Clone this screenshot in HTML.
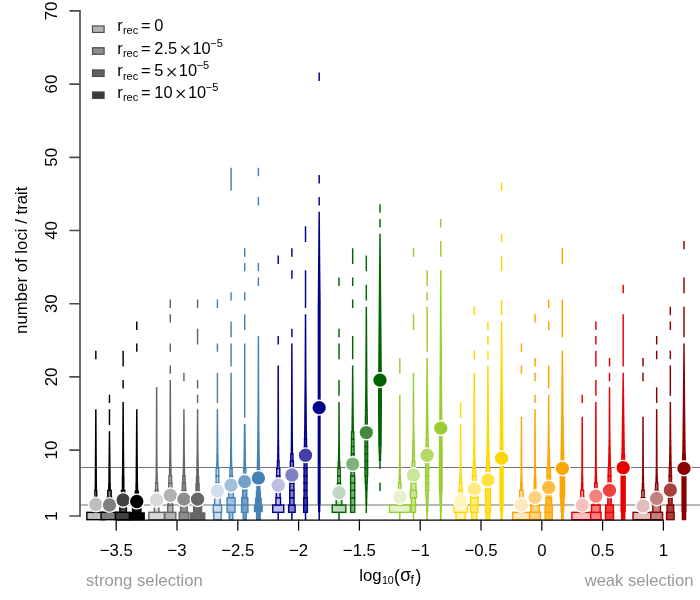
<!DOCTYPE html>
<html><head><meta charset="utf-8"><title>chart</title>
<style>html,body{margin:0;padding:0;background:#fff;width:700px;height:600px;overflow:hidden}</style>
</head><body>
<svg width="700" height="600" viewBox="0 0 700 600" style="will-change:transform;position:absolute;left:0;top:0;font-family:'Liberation Sans',sans-serif">
<rect width="700" height="600" fill="#fff"/>
<g stroke="#737373" stroke-width="1.05">
<line x1="80" x2="700" y1="504.9" y2="504.9"/>
<line x1="80" x2="700" y1="467.4" y2="467.4"/>
</g>
<path fill="#000000" d="M94.62 490.93L94.62 483.06L94.69 483.06L94.69 475.74L94.73 475.74L94.73 468.42L94.78 468.42L94.78 461.10L94.83 461.10L94.83 453.78L94.87 453.78L94.87 446.46L94.91 446.46L94.91 439.14L94.95 439.14L94.95 431.82L94.99 431.82L94.99 424.50L95.03 424.50L95.03 417.18L95.08 417.18L95.08 409.31L96.58 409.31L96.58 417.18L96.62 417.18L96.62 424.50L96.66 424.50L96.66 431.82L96.70 431.82L96.70 439.14L96.74 439.14L96.74 446.46L96.78 446.46L96.78 453.78L96.82 453.78L96.82 461.10L96.87 461.10L96.87 468.42L96.92 468.42L96.92 475.74L96.97 475.74L96.97 483.06L97.03 483.06L97.03 490.93ZM95.10 359.17L95.10 350.75L96.55 350.75L96.55 359.17Z"/>
<g fill="#bfbfbf" stroke="#000000" stroke-width="1.4">
<rect x="86.83" y="512.34" width="18.00" height="7.32"/>
<rect x="92.53" y="505.02" width="6.60" height="7.32"/>
<rect x="93.78" y="497.70" width="4.10" height="7.32"/>
<rect x="94.92" y="490.38" width="1.81" height="7.32"/>
</g>
<circle cx="95.83" cy="504.51" r="7.35" fill="#bfbfbf" stroke="#fff" stroke-width="1.4"/>
<path fill="#000000" d="M108.08 490.93L108.08 483.06L108.24 483.06L108.24 475.74L108.32 475.74L108.32 468.42L108.40 468.42L108.40 461.10L108.48 461.10L108.48 453.78L108.56 453.78L108.56 446.46L108.64 446.46L108.64 439.14L108.73 439.14L108.73 431.27L110.23 431.27L110.23 439.14L110.31 439.14L110.31 446.46L110.39 446.46L110.39 453.78L110.47 453.78L110.47 461.10L110.55 461.10L110.55 468.42L110.63 468.42L110.63 475.74L110.71 475.74L110.71 483.06L110.88 483.06L110.88 490.93ZM108.75 425.05L108.75 417.18L108.75 417.18L108.75 409.31L110.20 409.31L110.20 417.18L110.20 417.18L110.20 425.05ZM108.75 403.09L108.75 394.67L110.20 394.67L110.20 403.09Z"/>
<g fill="#808080" stroke="#000000" stroke-width="1.4">
<rect x="101.08" y="512.34" width="16.80" height="7.32"/>
<rect x="106.18" y="505.02" width="6.60" height="7.32"/>
<rect x="107.18" y="497.70" width="4.60" height="7.32"/>
<rect x="107.78" y="490.38" width="3.40" height="7.32"/>
</g>
<circle cx="109.48" cy="505.02" r="7.35" fill="#808080" stroke="#fff" stroke-width="1.4"/>
<path fill="#000000" d="M121.73 490.93L121.73 483.06L121.73 483.06L121.73 475.74L121.89 475.74L121.89 468.42L121.97 468.42L121.97 461.10L122.05 461.10L122.05 453.78L122.10 453.78L122.10 446.46L122.14 446.46L122.14 439.14L122.19 439.14L122.19 431.82L122.24 431.82L122.24 424.50L122.28 424.50L122.28 417.18L122.33 417.18L122.33 409.86L122.38 409.86L122.38 401.99L123.88 401.99L123.88 409.86L123.92 409.86L123.92 417.18L123.97 417.18L123.97 424.50L124.01 424.50L124.01 431.82L124.06 431.82L124.06 439.14L124.11 439.14L124.11 446.46L124.15 446.46L124.15 453.78L124.20 453.78L124.20 461.10L124.28 461.10L124.28 468.42L124.36 468.42L124.36 475.74L124.53 475.74L124.53 483.06L124.53 483.06L124.53 490.93ZM122.40 388.45L122.40 380.03L123.85 380.03L123.85 388.45ZM122.40 366.49L122.40 358.62L122.40 358.62L122.40 350.75L123.85 350.75L123.85 358.62L123.85 358.62L123.85 366.49Z"/>
<g fill="#404040" stroke="#000000" stroke-width="1.4">
<rect x="115.33" y="512.34" width="15.60" height="7.32"/>
<rect x="119.83" y="505.02" width="6.60" height="7.32"/>
<rect x="120.83" y="497.70" width="4.60" height="7.32"/>
<rect x="121.48" y="490.38" width="3.30" height="7.32"/>
</g>
<circle cx="123.13" cy="499.97" r="7.35" fill="#404040" stroke="#fff" stroke-width="1.4"/>
<path fill="#000000" d="M128.68 520.21L128.68 512.34L131.88 512.34L131.88 505.02L133.53 505.02L133.53 497.70L134.56 497.70L134.56 490.38L135.38 490.38L135.38 483.06L135.54 483.06L135.54 475.74L135.59 475.74L135.59 468.42L135.65 468.42L135.65 461.10L135.70 461.10L135.70 453.78L135.75 453.78L135.75 446.46L135.81 446.46L135.81 439.14L135.86 439.14L135.86 431.82L135.92 431.82L135.92 424.50L135.97 424.50L135.97 417.18L136.03 417.18L136.03 409.31L137.53 409.31L137.53 417.18L137.58 417.18L137.58 424.50L137.63 424.50L137.63 431.82L137.69 431.82L137.69 439.14L137.74 439.14L137.74 446.46L137.80 446.46L137.80 453.78L137.85 453.78L137.85 461.10L137.90 461.10L137.90 468.42L137.96 468.42L137.96 475.74L138.01 475.74L138.01 483.06L138.18 483.06L138.18 490.38L138.99 490.38L138.99 497.70L140.03 497.70L140.03 505.02L141.68 505.02L141.68 512.34L144.88 512.34L144.88 520.21ZM136.05 351.85L136.05 343.43L137.50 343.43L137.50 351.85ZM136.05 329.89L136.05 321.47L137.50 321.47L137.50 329.89Z"/>
<circle cx="136.78" cy="501.51" r="7.35" fill="#000000" stroke="#fff" stroke-width="1.4"/>
<path fill="#666666" d="M155.39 483.61L155.39 475.74L155.55 475.74L155.55 468.42L155.60 468.42L155.60 461.10L155.66 461.10L155.66 453.78L155.71 453.78L155.71 446.46L155.73 446.46L155.73 439.14L155.75 439.14L155.75 431.82L155.77 431.82L155.77 424.50L155.79 424.50L155.79 417.18L155.81 417.18L155.81 409.86L155.83 409.86L155.83 402.54L155.85 402.54L155.85 395.22L155.88 395.22L155.88 387.35L157.38 387.35L157.38 395.22L157.40 395.22L157.40 402.54L157.42 402.54L157.42 409.86L157.44 409.86L157.44 417.18L157.46 417.18L157.46 424.50L157.48 424.50L157.48 431.82L157.50 431.82L157.50 439.14L157.52 439.14L157.52 446.46L157.54 446.46L157.54 453.78L157.59 453.78L157.59 461.10L157.65 461.10L157.65 468.42L157.70 468.42L157.70 475.74L157.86 475.74L157.86 483.61Z"/>
<g fill="#d9d9d9" stroke="#666666" stroke-width="1.4">
<rect x="148.88" y="512.34" width="15.50" height="7.32"/>
<rect x="154.33" y="505.02" width="4.60" height="7.32"/>
<rect x="154.83" y="497.70" width="3.60" height="7.32"/>
<rect x="155.29" y="490.38" width="2.68" height="7.32"/>
<rect x="155.63" y="483.06" width="1.99" height="7.32"/>
</g>
<circle cx="156.63" cy="499.90" r="7.35" fill="#d9d9d9" stroke="#fff" stroke-width="1.4"/>
<path fill="#666666" d="M168.88 476.29L168.88 468.42L169.04 468.42L169.04 461.10L169.12 461.10L169.12 453.78L169.20 453.78L169.20 446.46L169.25 446.46L169.25 439.14L169.31 439.14L169.31 431.82L169.36 431.82L169.36 424.50L169.39 424.50L169.39 417.18L169.42 417.18L169.42 409.86L169.44 409.86L169.44 402.54L169.47 402.54L169.47 395.22L169.50 395.22L169.50 387.90L169.53 387.90L169.53 380.03L171.03 380.03L171.03 387.90L171.05 387.90L171.05 395.22L171.08 395.22L171.08 402.54L171.11 402.54L171.11 409.86L171.13 409.86L171.13 417.18L171.16 417.18L171.16 424.50L171.19 424.50L171.19 431.82L171.24 431.82L171.24 439.14L171.30 439.14L171.30 446.46L171.35 446.46L171.35 453.78L171.43 453.78L171.43 461.10L171.51 461.10L171.51 468.42L171.68 468.42L171.68 476.29ZM169.55 373.81L169.55 365.39L171.00 365.39L171.00 373.81ZM169.55 351.85L169.55 343.43L171.00 343.43L171.00 351.85ZM169.55 322.57L169.55 314.15L171.00 314.15L171.00 322.57ZM169.55 307.93L169.55 299.51L171.00 299.51L171.00 307.93Z"/>
<g fill="#b2b2b2" stroke="#666666" stroke-width="1.4">
<rect x="164.73" y="512.34" width="11.10" height="7.32"/>
<rect x="167.73" y="505.02" width="5.10" height="7.32"/>
<rect x="168.23" y="497.70" width="4.10" height="7.32"/>
<rect x="168.48" y="490.38" width="3.60" height="7.32"/>
<rect x="168.68" y="483.06" width="3.20" height="7.32"/>
<rect x="168.94" y="475.74" width="2.68" height="7.32"/>
</g>
<circle cx="170.28" cy="495.28" r="7.35" fill="#b2b2b2" stroke="#fff" stroke-width="1.4"/>
<path fill="#666666" d="M182.62 476.29L182.62 468.42L182.75 468.42L182.75 461.10L182.85 461.10L182.85 453.78L182.95 453.78L182.95 446.46L182.99 446.46L182.99 439.14L183.04 439.14L183.04 431.82L183.08 431.82L183.08 424.50L183.13 424.50L183.13 417.18L183.18 417.18L183.18 409.31L184.68 409.31L184.68 417.18L184.72 417.18L184.72 424.50L184.77 424.50L184.77 431.82L184.81 431.82L184.81 439.14L184.86 439.14L184.86 446.46L184.90 446.46L184.90 453.78L185.00 453.78L185.00 461.10L185.10 461.10L185.10 468.42L185.23 468.42L185.23 476.29ZM183.20 381.13L183.20 372.71L184.65 372.71L184.65 381.13Z"/>
<g fill="#8c8c8c" stroke="#666666" stroke-width="1.4">
<rect x="179.18" y="512.34" width="9.50" height="7.32"/>
<rect x="180.62" y="505.02" width="6.60" height="7.32"/>
<rect x="181.62" y="497.70" width="4.60" height="7.32"/>
<rect x="182.12" y="490.38" width="3.60" height="7.32"/>
<rect x="182.33" y="483.06" width="3.20" height="7.32"/>
<rect x="182.85" y="475.74" width="2.16" height="7.32"/>
</g>
<circle cx="183.93" cy="499.16" r="7.35" fill="#8c8c8c" stroke="#fff" stroke-width="1.4"/>
<path fill="#666666" d="M189.68 520.21L189.68 512.34L192.93 512.34L192.93 505.02L194.33 505.02L194.33 497.70L194.93 497.70L194.93 490.38L195.36 490.38L195.36 483.06L195.80 483.06L195.80 475.74L196.18 475.74L196.18 468.42L196.34 468.42L196.34 461.10L196.45 461.10L196.45 453.78L196.57 453.78L196.57 446.46L196.62 446.46L196.62 439.14L196.67 439.14L196.67 431.82L196.72 431.82L196.72 424.50L196.77 424.50L196.77 417.18L196.83 417.18L196.83 409.31L198.33 409.31L198.33 417.18L198.38 417.18L198.38 424.50L198.43 424.50L198.43 431.82L198.48 431.82L198.48 439.14L198.53 439.14L198.53 446.46L198.59 446.46L198.59 453.78L198.70 453.78L198.70 461.10L198.81 461.10L198.81 468.42L198.98 468.42L198.98 475.74L199.35 475.74L199.35 483.06L199.79 483.06L199.79 490.38L200.23 490.38L200.23 497.70L200.83 497.70L200.83 505.02L202.23 505.02L202.23 512.34L205.48 512.34L205.48 520.21ZM196.85 403.09L196.85 394.67L198.30 394.67L198.30 403.09ZM196.85 388.45L196.85 380.03L198.30 380.03L198.30 388.45ZM196.85 344.53L196.85 336.66L196.85 336.66L196.85 328.79L198.30 328.79L198.30 336.66L198.30 336.66L198.30 344.53ZM196.85 307.93L196.85 299.51L198.30 299.51L198.30 307.93Z"/>
<circle cx="197.58" cy="499.16" r="7.35" fill="#666666" stroke="#fff" stroke-width="1.4"/>
<path fill="#4682b4" d="M216.12 468.97L216.12 461.10L216.27 461.10L216.27 453.78L216.42 453.78L216.42 446.46L216.47 446.46L216.47 439.14L216.52 439.14L216.52 431.82L216.57 431.82L216.57 424.50L216.62 424.50L216.62 417.18L216.67 417.18L216.67 409.31L218.17 409.31L218.17 417.18L218.22 417.18L218.22 424.50L218.27 424.50L218.27 431.82L218.32 431.82L218.32 439.14L218.37 439.14L218.37 446.46L218.42 446.46L218.42 453.78L218.57 453.78L218.57 461.10L218.72 461.10L218.72 468.97ZM216.70 403.09L216.70 395.22L216.70 395.22L216.70 387.90L216.70 387.90L216.70 380.58L216.70 380.58L216.70 372.71L218.15 372.71L218.15 380.58L218.15 380.58L218.15 387.90L218.15 387.90L218.15 395.22L218.15 395.22L218.15 403.09ZM216.70 351.85L216.70 343.43L218.15 343.43L218.15 351.85ZM216.70 307.93L216.70 299.51L218.15 299.51L218.15 307.93Z"/>
<g fill="#d1e0ec" stroke="#4682b4" stroke-width="1.4">
<rect x="213.72" y="512.34" width="7.40" height="7.32"/>
<rect x="213.27" y="505.02" width="8.30" height="7.32"/>
<rect x="214.62" y="497.70" width="5.60" height="7.32"/>
<rect x="215.37" y="490.38" width="4.10" height="7.32"/>
<rect x="215.82" y="483.06" width="3.20" height="7.32"/>
<rect x="216.12" y="475.74" width="2.60" height="7.32"/>
<rect x="216.12" y="468.42" width="2.60" height="7.32"/>
</g>
<circle cx="217.42" cy="491.11" r="7.35" fill="#d1e0ec" stroke="#fff" stroke-width="1.4"/>
<path fill="#4682b4" d="M229.82 468.97L229.82 461.10L229.97 461.10L229.97 453.78L230.04 453.78L230.04 446.46L230.11 446.46L230.11 439.14L230.17 439.14L230.17 431.82L230.19 431.82L230.19 424.50L230.21 424.50L230.21 417.18L230.23 417.18L230.23 409.86L230.25 409.86L230.25 402.54L230.27 402.54L230.27 395.22L230.29 395.22L230.29 387.90L230.31 387.90L230.31 380.58L230.32 380.58L230.32 372.71L231.82 372.71L231.82 380.58L231.84 380.58L231.84 387.90L231.86 387.90L231.86 395.22L231.88 395.22L231.88 402.54L231.90 402.54L231.90 409.86L231.92 409.86L231.92 417.18L231.94 417.18L231.94 424.50L231.96 424.50L231.96 431.82L231.97 431.82L231.97 439.14L232.04 439.14L232.04 446.46L232.11 446.46L232.11 453.78L232.17 453.78L232.17 461.10L232.32 461.10L232.32 468.97ZM230.35 366.49L230.35 358.62L230.35 358.62L230.35 351.30L230.35 351.30L230.35 343.43L231.80 343.43L231.80 351.30L231.80 351.30L231.80 358.62L231.80 358.62L231.80 366.49ZM230.35 337.21L230.35 329.34L230.35 329.34L230.35 321.47L231.80 321.47L231.80 329.34L231.80 329.34L231.80 337.21ZM230.35 300.61L230.35 292.19L231.80 292.19L231.80 300.61ZM230.35 190.81L230.35 182.94L230.35 182.94L230.35 175.62L230.35 175.62L230.35 167.75L231.80 167.75L231.80 175.62L231.80 175.62L231.80 182.94L231.80 182.94L231.80 190.81Z"/>
<g fill="#a2c0da" stroke="#4682b4" stroke-width="1.4">
<rect x="229.27" y="512.34" width="3.60" height="7.32"/>
<rect x="227.12" y="505.02" width="7.90" height="7.32"/>
<rect x="227.12" y="497.70" width="7.90" height="7.32"/>
<rect x="228.77" y="490.38" width="4.60" height="7.32"/>
<rect x="229.27" y="483.06" width="3.60" height="7.32"/>
<rect x="229.67" y="475.74" width="2.80" height="7.32"/>
<rect x="230.02" y="468.42" width="2.10" height="7.32"/>
</g>
<circle cx="231.07" cy="485.26" r="7.35" fill="#a2c0da" stroke="#fff" stroke-width="1.4"/>
<path fill="#4682b4" d="M243.32 468.97L243.32 461.10L243.49 461.10L243.49 453.78L243.57 453.78L243.57 446.46L243.65 446.46L243.65 439.14L243.73 439.14L243.73 431.82L243.81 431.82L243.81 423.95L245.64 423.95L245.64 431.82L245.72 431.82L245.72 439.14L245.80 439.14L245.80 446.46L245.88 446.46L245.88 453.78L245.96 453.78L245.96 461.10L246.12 461.10L246.12 468.97ZM244.00 417.73L244.00 409.86L244.00 409.86L244.00 402.54L244.00 402.54L244.00 395.22L244.00 395.22L244.00 387.90L244.00 387.90L244.00 380.58L244.00 380.58L244.00 373.26L244.00 373.26L244.00 365.94L244.00 365.94L244.00 358.62L244.00 358.62L244.00 351.30L244.00 351.30L244.00 343.43L245.45 343.43L245.45 351.30L245.45 351.30L245.45 358.62L245.45 358.62L245.45 365.94L245.45 365.94L245.45 373.26L245.45 373.26L245.45 380.58L245.45 380.58L245.45 387.90L245.45 387.90L245.45 395.22L245.45 395.22L245.45 402.54L245.45 402.54L245.45 409.86L245.45 409.86L245.45 417.73ZM244.00 329.89L244.00 322.02L244.00 322.02L244.00 314.15L245.45 314.15L245.45 322.02L245.45 322.02L245.45 329.89ZM244.00 300.61L244.00 292.19L245.45 292.19L245.45 300.61ZM244.00 271.33L244.00 262.91L245.45 262.91L245.45 271.33ZM244.00 256.69L244.00 248.27L245.45 248.27L245.45 256.69Z"/>
<g fill="#74a1c7" stroke="#4682b4" stroke-width="1.4">
<rect x="243.21" y="512.34" width="3.03" height="7.32"/>
<rect x="241.52" y="505.02" width="6.40" height="7.32"/>
<rect x="241.67" y="497.70" width="6.10" height="7.32"/>
<rect x="242.67" y="490.38" width="4.10" height="7.32"/>
<rect x="242.92" y="483.06" width="3.60" height="7.32"/>
<rect x="243.21" y="475.74" width="3.03" height="7.32"/>
<rect x="243.65" y="468.42" width="2.16" height="7.32"/>
</g>
<circle cx="244.72" cy="481.60" r="7.35" fill="#74a1c7" stroke="#fff" stroke-width="1.4"/>
<path fill="#4682b4" d="M255.88 520.21L255.88 512.34L253.88 512.34L253.88 505.02L254.88 505.02L254.88 497.70L255.78 497.70L255.78 490.38L256.27 490.38L256.27 483.06L256.38 483.06L256.38 475.74L256.57 475.74L256.57 468.42L256.77 468.42L256.77 461.10L256.88 461.10L256.88 453.78L256.98 453.78L256.98 446.46L257.07 446.46L257.07 439.14L257.18 439.14L257.18 431.82L257.27 431.82L257.27 424.50L257.31 424.50L257.31 417.18L257.36 417.18L257.36 409.86L257.39 409.86L257.39 402.54L257.44 402.54L257.44 395.22L257.48 395.22L257.48 387.90L257.50 387.90L257.50 380.58L257.52 380.58L257.52 373.26L257.54 373.26L257.54 365.94L257.56 365.94L257.56 358.62L257.58 358.62L257.58 351.30L257.60 351.30L257.60 343.98L257.62 343.98L257.62 336.11L259.12 336.11L259.12 343.98L259.15 343.98L259.15 351.30L259.17 351.30L259.17 358.62L259.19 358.62L259.19 365.94L259.21 365.94L259.21 373.26L259.23 373.26L259.23 380.58L259.25 380.58L259.25 387.90L259.27 387.90L259.27 395.22L259.31 395.22L259.31 402.54L259.36 402.54L259.36 409.86L259.39 409.86L259.39 417.18L259.44 417.18L259.44 424.50L259.48 424.50L259.48 431.82L259.57 431.82L259.57 439.14L259.68 439.14L259.68 446.46L259.77 446.46L259.77 453.78L259.88 453.78L259.88 461.10L259.98 461.10L259.98 468.42L260.18 468.42L260.18 475.74L260.38 475.74L260.38 483.06L260.48 483.06L260.48 490.38L260.98 490.38L260.98 497.70L261.88 497.70L261.88 505.02L262.88 505.02L262.88 512.34L260.88 512.34L260.88 520.21ZM257.65 285.97L257.65 277.55L259.10 277.55L259.10 285.97ZM257.65 271.33L257.65 262.91L259.10 262.91L259.10 271.33ZM257.65 205.45L257.65 197.03L259.10 197.03L259.10 205.45ZM257.65 176.17L257.65 167.75L259.10 167.75L259.10 176.17Z"/>
<circle cx="258.38" cy="477.94" r="7.35" fill="#4682b4" stroke="#fff" stroke-width="1.4"/>
<path fill="#00008b" d="M277.47 520.21L277.47 511.79L278.97 511.79L278.97 520.21ZM277.07 461.65L277.07 453.78L277.16 453.78L277.16 446.46L277.24 446.46L277.24 439.14L277.32 439.14L277.32 431.82L277.34 431.82L277.34 424.50L277.36 424.50L277.36 417.18L277.37 417.18L277.37 409.86L277.39 409.86L277.39 402.54L277.41 402.54L277.41 395.22L277.42 395.22L277.42 387.90L277.44 387.90L277.44 380.58L277.46 380.58L277.46 373.26L277.47 373.26L277.47 365.39L278.97 365.39L278.97 373.26L278.99 373.26L278.99 380.58L279.01 380.58L279.01 387.90L279.02 387.90L279.02 395.22L279.04 395.22L279.04 402.54L279.06 402.54L279.06 409.86L279.07 409.86L279.07 417.18L279.09 417.18L279.09 424.50L279.11 424.50L279.11 431.82L279.12 431.82L279.12 439.14L279.21 439.14L279.21 446.46L279.29 446.46L279.29 453.78L279.37 453.78L279.37 461.65ZM277.50 344.53L277.50 336.11L278.95 336.11L278.95 344.53ZM277.50 264.01L277.50 255.59L278.95 255.59L278.95 264.01Z"/>
<g fill="#bfbfe2" stroke="#00008b" stroke-width="1.4">
<rect x="272.72" y="505.02" width="11.00" height="7.32"/>
<rect x="275.92" y="497.70" width="4.60" height="7.32"/>
<rect x="276.32" y="490.38" width="3.80" height="7.32"/>
<rect x="276.52" y="483.06" width="3.40" height="7.32"/>
<rect x="276.62" y="475.74" width="3.20" height="7.32"/>
<rect x="276.67" y="468.42" width="3.10" height="7.32"/>
<rect x="277.42" y="461.10" width="1.60" height="7.32"/>
</g>
<circle cx="278.22" cy="485.26" r="7.35" fill="#bfbfe2" stroke="#fff" stroke-width="1.4"/>
<path fill="#00008b" d="M291.12 520.21L291.12 511.79L292.62 511.79L292.62 520.21ZM290.64 454.33L290.64 446.46L290.72 446.46L290.72 439.14L290.80 439.14L290.80 431.82L290.84 431.82L290.84 424.50L290.88 424.50L290.88 417.18L290.92 417.18L290.92 409.86L290.96 409.86L290.96 402.54L290.98 402.54L290.98 395.22L291.00 395.22L291.00 387.90L291.02 387.90L291.02 380.58L291.04 380.58L291.04 373.26L291.06 373.26L291.06 365.94L291.08 365.94L291.08 358.62L291.10 358.62L291.10 351.30L291.12 351.30L291.12 343.43L292.62 343.43L292.62 351.30L292.65 351.30L292.65 358.62L292.67 358.62L292.67 365.94L292.69 365.94L292.69 373.26L292.71 373.26L292.71 380.58L292.73 380.58L292.73 387.90L292.75 387.90L292.75 395.22L292.77 395.22L292.77 402.54L292.79 402.54L292.79 409.86L292.83 409.86L292.83 417.18L292.87 417.18L292.87 424.50L292.91 424.50L292.91 431.82L292.95 431.82L292.95 439.14L293.03 439.14L293.03 446.46L293.11 446.46L293.11 454.33ZM291.15 337.21L291.15 328.79L292.60 328.79L292.60 337.21ZM291.15 278.65L291.15 270.23L292.60 270.23L292.60 278.65ZM291.15 256.69L291.15 248.27L292.60 248.27L292.60 256.69Z"/>
<g fill="#8080c5" stroke="#00008b" stroke-width="1.4">
<rect x="288.62" y="505.02" width="6.50" height="7.32"/>
<rect x="289.73" y="497.70" width="4.30" height="7.32"/>
<rect x="289.73" y="490.38" width="4.30" height="7.32"/>
<rect x="289.82" y="483.06" width="4.10" height="7.32"/>
<rect x="290.07" y="475.74" width="3.60" height="7.32"/>
<rect x="290.07" y="468.42" width="3.60" height="7.32"/>
<rect x="290.36" y="461.10" width="3.03" height="7.32"/>
<rect x="290.80" y="453.78" width="2.16" height="7.32"/>
</g>
<circle cx="291.88" cy="475.01" r="7.35" fill="#8080c5" stroke="#fff" stroke-width="1.4"/>
<path fill="#00008b" d="M304.77 520.21L304.77 511.79L306.27 511.79L306.27 520.21ZM304.12 432.37L304.12 424.50L304.18 424.50L304.18 417.18L304.24 417.18L304.24 409.86L304.30 409.86L304.30 402.54L304.35 402.54L304.35 395.22L304.41 395.22L304.41 387.90L304.47 387.90L304.47 380.58L304.52 380.58L304.52 373.26L304.56 373.26L304.56 365.94L304.59 365.94L304.59 358.62L304.62 358.62L304.62 351.30L304.65 351.30L304.65 343.98L304.68 343.98L304.68 336.66L304.71 336.66L304.71 329.34L304.74 329.34L304.74 322.02L304.77 322.02L304.77 314.15L306.27 314.15L306.27 322.02L306.31 322.02L306.31 329.34L306.34 329.34L306.34 336.66L306.37 336.66L306.37 343.98L306.40 343.98L306.40 351.30L306.43 351.30L306.43 358.62L306.46 358.62L306.46 365.94L306.49 365.94L306.49 373.26L306.52 373.26L306.52 380.58L306.58 380.58L306.58 387.90L306.64 387.90L306.64 395.22L306.70 395.22L306.70 402.54L306.75 402.54L306.75 409.86L306.81 409.86L306.81 417.18L306.87 417.18L306.87 424.50L306.92 424.50L306.92 432.37ZM304.80 307.93L304.80 300.06L304.80 300.06L304.80 292.74L304.80 292.74L304.80 285.42L304.80 285.42L304.80 278.10L304.80 278.10L304.80 270.23L306.25 270.23L306.25 278.10L306.25 278.10L306.25 285.42L306.25 285.42L306.25 292.74L306.25 292.74L306.25 300.06L306.25 300.06L306.25 307.93ZM304.80 242.05L304.80 234.18L304.80 234.18L304.80 226.31L306.25 226.31L306.25 234.18L306.25 234.18L306.25 242.05Z"/>
<g fill="#4040a8" stroke="#00008b" stroke-width="1.4">
<rect x="303.67" y="505.02" width="3.70" height="7.32"/>
<rect x="303.72" y="497.70" width="3.60" height="7.32"/>
<rect x="304.07" y="490.38" width="2.90" height="7.32"/>
<rect x="304.07" y="483.06" width="2.90" height="7.32"/>
<rect x="304.05" y="475.74" width="2.95" height="7.32"/>
<rect x="304.02" y="468.42" width="3.00" height="7.32"/>
<rect x="304.12" y="461.10" width="2.80" height="7.32"/>
<rect x="304.22" y="453.78" width="2.60" height="7.32"/>
<rect x="304.38" y="446.46" width="2.30" height="7.32"/>
<rect x="304.52" y="439.14" width="2.00" height="7.32"/>
<rect x="304.67" y="431.82" width="1.70" height="7.32"/>
</g>
<circle cx="305.52" cy="455.24" r="7.35" fill="#4040a8" stroke="#fff" stroke-width="1.4"/>
<path fill="#00008b" d="M318.43 520.21L318.43 512.34L318.03 512.34L318.03 505.02L317.68 505.02L317.68 497.70L317.68 497.70L317.68 490.38L317.68 490.38L317.68 483.06L317.68 483.06L317.68 475.74L317.68 475.74L317.68 468.42L317.68 468.42L317.68 461.10L317.68 461.10L317.68 453.78L317.68 453.78L317.68 446.46L317.68 446.46L317.68 439.14L317.68 439.14L317.68 431.82L317.68 431.82L317.68 424.50L317.68 424.50L317.68 417.18L317.68 417.18L317.68 409.86L317.68 409.86L317.68 402.54L317.68 402.54L317.68 395.22L317.68 395.22L317.68 387.90L317.68 387.90L317.68 380.58L317.68 380.58L317.68 373.26L317.68 373.26L317.68 365.94L317.68 365.94L317.68 358.62L317.68 358.62L317.68 351.30L317.68 351.30L317.68 343.98L317.68 343.98L317.68 336.66L317.68 336.66L317.68 329.34L317.68 329.34L317.68 322.02L317.68 322.02L317.68 314.70L317.68 314.70L317.68 307.38L317.68 307.38L317.68 300.06L317.75 300.06L317.75 292.74L317.81 292.74L317.81 285.42L317.88 285.42L317.88 278.10L317.95 278.10L317.95 270.78L318.03 270.78L318.03 263.46L318.08 263.46L318.08 256.14L318.14 256.14L318.14 248.82L318.20 248.82L318.20 241.50L318.25 241.50L318.25 234.18L318.31 234.18L318.31 226.86L318.37 226.86L318.37 219.54L318.43 219.54L318.43 211.67L319.93 211.67L319.93 219.54L319.98 219.54L319.98 226.86L320.04 226.86L320.04 234.18L320.10 234.18L320.10 241.50L320.15 241.50L320.15 248.82L320.21 248.82L320.21 256.14L320.27 256.14L320.27 263.46L320.32 263.46L320.32 270.78L320.40 270.78L320.40 278.10L320.47 278.10L320.47 285.42L320.54 285.42L320.54 292.74L320.61 292.74L320.61 300.06L320.68 300.06L320.68 307.38L320.68 307.38L320.68 314.70L320.68 314.70L320.68 322.02L320.68 322.02L320.68 329.34L320.68 329.34L320.68 336.66L320.68 336.66L320.68 343.98L320.68 343.98L320.68 351.30L320.68 351.30L320.68 358.62L320.68 358.62L320.68 365.94L320.68 365.94L320.68 373.26L320.68 373.26L320.68 380.58L320.68 380.58L320.68 387.90L320.68 387.90L320.68 395.22L320.68 395.22L320.68 402.54L320.68 402.54L320.68 409.86L320.68 409.86L320.68 417.18L320.68 417.18L320.68 424.50L320.68 424.50L320.68 431.82L320.68 431.82L320.68 439.14L320.68 439.14L320.68 446.46L320.68 446.46L320.68 453.78L320.68 453.78L320.68 461.10L320.68 461.10L320.68 468.42L320.68 468.42L320.68 475.74L320.68 475.74L320.68 483.06L320.68 483.06L320.68 490.38L320.68 490.38L320.68 497.70L320.68 497.70L320.68 505.02L320.32 505.02L320.32 512.34L319.93 512.34L319.93 520.21ZM318.45 205.45L318.45 197.03L319.90 197.03L319.90 205.45ZM318.45 183.49L318.45 175.07L319.90 175.07L319.90 183.49ZM318.45 81.01L318.45 72.59L319.90 72.59L319.90 81.01Z"/>
<circle cx="319.18" cy="407.66" r="7.35" fill="#00008b" stroke="#fff" stroke-width="1.4"/>
<path fill="#006400" d="M338.27 520.21L338.27 511.79L339.77 511.79L339.77 520.21ZM337.62 468.97L337.62 461.10L337.92 461.10L337.92 453.78L338.02 453.78L338.02 446.46L338.12 446.46L338.12 439.14L338.15 439.14L338.15 431.82L338.19 431.82L338.19 424.50L338.21 424.50L338.21 417.18L338.25 417.18L338.25 409.86L338.27 409.86L338.27 401.99L339.77 401.99L339.77 409.86L339.80 409.86L339.80 417.18L339.83 417.18L339.83 424.50L339.86 424.50L339.86 431.82L339.89 431.82L339.89 439.14L339.92 439.14L339.92 446.46L340.02 446.46L340.02 453.78L340.12 453.78L340.12 461.10L340.42 461.10L340.42 468.97ZM338.30 395.77L338.30 387.90L338.30 387.90L338.30 380.03L339.75 380.03L339.75 387.90L339.75 387.90L339.75 395.77ZM338.30 359.17L338.30 351.30L338.30 351.30L338.30 343.43L339.75 343.43L339.75 351.30L339.75 351.30L339.75 359.17ZM338.30 337.21L338.30 328.79L339.75 328.79L339.75 337.21ZM338.30 285.97L338.30 277.55L339.75 277.55L339.75 285.97Z"/>
<g fill="#bfd8bf" stroke="#006400" stroke-width="1.4">
<rect x="332.22" y="505.02" width="13.60" height="7.32"/>
<rect x="336.22" y="497.70" width="5.60" height="7.32"/>
<rect x="337.12" y="490.38" width="3.80" height="7.32"/>
<rect x="337.42" y="483.06" width="3.20" height="7.32"/>
<rect x="337.72" y="475.74" width="2.60" height="7.32"/>
<rect x="337.82" y="468.42" width="2.40" height="7.32"/>
</g>
<circle cx="339.02" cy="492.58" r="7.35" fill="#bfd8bf" stroke="#fff" stroke-width="1.4"/>
<path fill="#006400" d="M351.38 432.37L351.38 424.50L351.48 424.50L351.48 417.18L351.57 417.18L351.57 409.86L351.65 409.86L351.65 402.54L351.73 402.54L351.73 395.22L351.78 395.22L351.78 387.90L351.82 387.90L351.82 380.58L351.88 380.58L351.88 373.26L351.93 373.26L351.93 365.39L353.43 365.39L353.43 373.26L353.48 373.26L353.48 380.58L353.53 380.58L353.53 387.90L353.57 387.90L353.57 395.22L353.62 395.22L353.62 402.54L353.70 402.54L353.70 409.86L353.78 409.86L353.78 417.18L353.88 417.18L353.88 424.50L353.98 424.50L353.98 432.37ZM351.95 359.17L351.95 351.30L351.95 351.30L351.95 343.98L351.95 343.98L351.95 336.11L353.40 336.11L353.40 343.98L353.40 343.98L353.40 351.30L353.40 351.30L353.40 359.17ZM351.95 307.93L351.95 299.51L353.40 299.51L353.40 307.93ZM351.95 285.97L351.95 277.55L353.40 277.55L353.40 285.97ZM351.95 264.01L351.95 256.14L351.95 256.14L351.95 248.27L353.40 248.27L353.40 256.14L353.40 256.14L353.40 264.01Z"/>
<g fill="#80b280" stroke="#006400" stroke-width="1.4">
<rect x="350.62" y="505.02" width="4.10" height="7.32"/>
<rect x="350.62" y="497.70" width="4.10" height="7.32"/>
<rect x="350.62" y="490.38" width="4.10" height="7.32"/>
<rect x="350.62" y="483.06" width="4.10" height="7.32"/>
<rect x="350.62" y="475.74" width="4.10" height="7.32"/>
<rect x="350.98" y="468.42" width="3.40" height="7.32"/>
<rect x="351.11" y="461.10" width="3.13" height="7.32"/>
<rect x="351.24" y="453.78" width="2.87" height="7.32"/>
<rect x="351.38" y="446.46" width="2.60" height="7.32"/>
<rect x="351.48" y="439.14" width="2.40" height="7.32"/>
<rect x="351.57" y="431.82" width="2.20" height="7.32"/>
</g>
<circle cx="352.68" cy="464.03" r="7.35" fill="#80b280" stroke="#fff" stroke-width="1.4"/>
<path fill="#006400" d="M365.57 512.89L365.57 505.02L365.32 505.02L365.32 497.70L365.18 497.70L365.18 490.38L364.93 490.38L364.93 482.51L367.72 482.51L367.72 490.38L367.47 490.38L367.47 497.70L367.32 497.70L367.32 505.02L367.07 505.02L367.07 512.89ZM364.93 410.41L364.93 402.54L365.02 402.54L365.02 395.22L365.12 395.22L365.12 387.90L365.17 387.90L365.17 380.58L365.21 380.58L365.21 373.26L365.25 373.26L365.25 365.94L365.29 365.94L365.29 358.62L365.33 358.62L365.33 351.30L365.37 351.30L365.37 343.98L365.41 343.98L365.41 336.66L365.45 336.66L365.45 329.34L365.49 329.34L365.49 322.02L365.53 322.02L365.53 314.70L365.57 314.70L365.57 306.83L367.07 306.83L367.07 314.70L367.12 314.70L367.12 322.02L367.16 322.02L367.16 329.34L367.20 329.34L367.20 336.66L367.24 336.66L367.24 343.98L367.28 343.98L367.28 351.30L367.32 351.30L367.32 358.62L367.36 358.62L367.36 365.94L367.40 365.94L367.40 373.26L367.44 373.26L367.44 380.58L367.48 380.58L367.48 387.90L367.52 387.90L367.52 395.22L367.62 395.22L367.62 402.54L367.72 402.54L367.72 410.41ZM365.60 300.61L365.60 292.74L365.60 292.74L365.60 284.87L367.05 284.87L367.05 292.74L367.05 292.74L367.05 300.61ZM365.60 271.33L365.60 263.46L365.60 263.46L365.60 255.59L367.05 255.59L367.05 263.46L367.05 263.46L367.05 271.33Z"/>
<g fill="#408b40" stroke="#006400" stroke-width="1.4">
<rect x="365.27" y="475.74" width="2.10" height="7.32"/>
<rect x="365.02" y="468.42" width="2.60" height="7.32"/>
<rect x="365.02" y="461.10" width="2.60" height="7.32"/>
<rect x="365.02" y="453.78" width="2.60" height="7.32"/>
<rect x="365.02" y="446.46" width="2.60" height="7.32"/>
<rect x="365.02" y="439.14" width="2.60" height="7.32"/>
<rect x="365.02" y="431.82" width="2.60" height="7.32"/>
<rect x="365.22" y="424.50" width="2.20" height="7.32"/>
<rect x="365.43" y="417.18" width="1.80" height="7.32"/>
<rect x="365.52" y="409.86" width="1.60" height="7.32"/>
</g>
<circle cx="366.32" cy="432.55" r="7.35" fill="#408b40" stroke="#fff" stroke-width="1.4"/>
<path fill="#006400" d="M379.25 490.93L379.25 482.51L380.70 482.51L380.70 490.93ZM379.23 468.97L379.23 461.10L378.73 461.10L378.73 453.78L378.48 453.78L378.48 446.46L378.23 446.46L378.23 439.14L378.18 439.14L378.18 431.82L378.12 431.82L378.12 424.50L378.08 424.50L378.08 417.18L378.03 417.18L378.03 409.86L377.98 409.86L377.98 402.54L378.00 402.54L378.00 395.22L378.03 395.22L378.03 387.90L378.05 387.90L378.05 380.58L378.08 380.58L378.08 373.26L378.14 373.26L378.14 365.94L378.20 365.94L378.20 358.62L378.25 358.62L378.25 351.30L378.31 351.30L378.31 343.98L378.38 343.98L378.38 336.66L378.44 336.66L378.44 329.34L378.50 329.34L378.50 322.02L378.56 322.02L378.56 314.70L378.62 314.70L378.62 307.38L378.68 307.38L378.68 300.06L378.74 300.06L378.74 292.74L378.80 292.74L378.80 285.42L378.86 285.42L378.86 278.10L378.92 278.10L378.92 270.78L378.98 270.78L378.98 263.46L379.04 263.46L379.04 256.14L379.10 256.14L379.10 248.82L379.16 248.82L379.16 241.50L379.23 241.50L379.23 233.63L380.73 233.63L380.73 241.50L380.79 241.50L380.79 248.82L380.85 248.82L380.85 256.14L380.91 256.14L380.91 263.46L380.97 263.46L380.97 270.78L381.03 270.78L381.03 278.10L381.09 278.10L381.09 285.42L381.15 285.42L381.15 292.74L381.21 292.74L381.21 300.06L381.28 300.06L381.28 307.38L381.34 307.38L381.34 314.70L381.40 314.70L381.40 322.02L381.46 322.02L381.46 329.34L381.52 329.34L381.52 336.66L381.58 336.66L381.58 343.98L381.64 343.98L381.64 351.30L381.70 351.30L381.70 358.62L381.75 358.62L381.75 365.94L381.81 365.94L381.81 373.26L381.88 373.26L381.88 380.58L381.90 380.58L381.90 387.90L381.93 387.90L381.93 395.22L381.95 395.22L381.95 402.54L381.98 402.54L381.98 409.86L381.93 409.86L381.93 417.18L381.88 417.18L381.88 424.50L381.83 424.50L381.83 431.82L381.78 431.82L381.78 439.14L381.73 439.14L381.73 446.46L381.48 446.46L381.48 453.78L381.23 453.78L381.23 461.10L380.73 461.10L380.73 468.97ZM379.25 227.41L379.25 218.99L380.70 218.99L380.70 227.41ZM379.25 212.77L379.25 204.35L380.70 204.35L380.70 212.77Z"/>
<circle cx="379.98" cy="380.14" r="7.35" fill="#006400" stroke="#fff" stroke-width="1.4"/>
<path fill="#9acd32" d="M399.07 520.21L399.07 511.79L400.57 511.79L400.57 520.21ZM398.52 483.61L398.52 475.74L398.72 475.74L398.72 468.42L398.82 468.42L398.82 461.10L398.92 461.10L398.92 453.78L398.94 453.78L398.94 446.46L398.96 446.46L398.96 439.14L398.98 439.14L398.98 431.82L399.00 431.82L399.00 424.50L399.02 424.50L399.02 417.18L399.04 417.18L399.04 409.86L399.06 409.86L399.06 402.54L399.07 402.54L399.07 394.67L400.57 394.67L400.57 402.54L400.59 402.54L400.59 409.86L400.61 409.86L400.61 417.18L400.63 417.18L400.63 424.50L400.65 424.50L400.65 431.82L400.67 431.82L400.67 439.14L400.69 439.14L400.69 446.46L400.71 446.46L400.71 453.78L400.72 453.78L400.72 461.10L400.82 461.10L400.82 468.42L400.92 468.42L400.92 475.74L401.12 475.74L401.12 483.61ZM399.10 373.81L399.10 365.94L399.10 365.94L399.10 358.07L400.55 358.07L400.55 365.94L400.55 365.94L400.55 373.81Z"/>
<g fill="#e6f2cc" stroke="#9acd32" stroke-width="1.4">
<rect x="389.52" y="505.02" width="20.60" height="7.32"/>
<rect x="397.02" y="497.70" width="5.60" height="7.32"/>
<rect x="398.02" y="490.38" width="3.60" height="7.32"/>
<rect x="398.62" y="483.06" width="2.40" height="7.32"/>
</g>
<circle cx="399.82" cy="496.97" r="7.35" fill="#e6f2cc" stroke="#fff" stroke-width="1.4"/>
<path fill="#9acd32" d="M412.72 520.21L412.72 511.79L414.22 511.79L414.22 520.21ZM412.07 454.33L412.07 446.46L412.22 446.46L412.22 439.14L412.37 439.14L412.37 431.82L412.47 431.82L412.47 424.50L412.57 424.50L412.57 417.18L412.60 417.18L412.60 409.86L412.62 409.86L412.62 402.54L412.65 402.54L412.65 395.22L412.67 395.22L412.67 387.90L412.70 387.90L412.70 380.58L412.72 380.58L412.72 372.71L414.22 372.71L414.22 380.58L414.25 380.58L414.25 387.90L414.27 387.90L414.27 395.22L414.30 395.22L414.30 402.54L414.32 402.54L414.32 409.86L414.35 409.86L414.35 417.18L414.37 417.18L414.37 424.50L414.47 424.50L414.47 431.82L414.57 431.82L414.57 439.14L414.72 439.14L414.72 446.46L414.87 446.46L414.87 454.33ZM412.75 329.89L412.75 322.02L412.75 322.02L412.75 314.15L414.20 314.15L414.20 322.02L414.20 322.02L414.20 329.89ZM412.75 256.69L412.75 248.27L414.20 248.27L414.20 256.69Z"/>
<g fill="#cce698" stroke="#9acd32" stroke-width="1.4">
<rect x="411.42" y="505.02" width="4.10" height="7.32"/>
<rect x="411.42" y="497.70" width="4.10" height="7.32"/>
<rect x="410.42" y="490.38" width="6.10" height="7.32"/>
<rect x="411.02" y="483.06" width="4.90" height="7.32"/>
<rect x="411.42" y="475.74" width="4.10" height="7.32"/>
<rect x="411.77" y="468.42" width="3.40" height="7.32"/>
<rect x="412.17" y="461.10" width="2.60" height="7.32"/>
<rect x="412.57" y="453.78" width="1.80" height="7.32"/>
</g>
<circle cx="413.47" cy="475.01" r="7.35" fill="#cce698" stroke="#fff" stroke-width="1.4"/>
<path fill="#9acd32" d="M426.32 520.21L426.32 512.34L425.92 512.34L425.92 504.47L428.32 504.47L428.32 512.34L427.92 512.34L427.92 520.21ZM425.71 432.37L425.71 424.50L425.80 424.50L425.80 417.18L425.89 417.18L425.89 409.86L425.97 409.86L425.97 402.54L426.04 402.54L426.04 395.22L426.11 395.22L426.11 387.90L426.17 387.90L426.17 380.58L426.24 380.58L426.24 373.26L426.31 373.26L426.31 365.94L426.37 365.94L426.37 358.07L427.87 358.07L427.87 365.94L427.94 365.94L427.94 373.26L428.01 373.26L428.01 380.58L428.07 380.58L428.07 387.90L428.14 387.90L428.14 395.22L428.21 395.22L428.21 402.54L428.27 402.54L428.27 409.86L428.36 409.86L428.36 417.18L428.45 417.18L428.45 424.50L428.54 424.50L428.54 432.37ZM426.40 351.85L426.40 343.98L426.40 343.98L426.40 336.66L426.40 336.66L426.40 329.34L426.40 329.34L426.40 322.02L426.40 322.02L426.40 314.70L426.40 314.70L426.40 306.83L427.85 306.83L427.85 314.70L427.85 314.70L427.85 322.02L427.85 322.02L427.85 329.34L427.85 329.34L427.85 336.66L427.85 336.66L427.85 343.98L427.85 343.98L427.85 351.85ZM426.40 300.61L426.40 292.19L427.85 292.19L427.85 300.61ZM426.40 285.97L426.40 278.10L426.40 278.10L426.40 270.23L427.85 270.23L427.85 278.10L427.85 278.10L427.85 285.97Z"/>
<g fill="#b3da65" stroke="#9acd32" stroke-width="1.4">
<rect x="426.32" y="497.70" width="1.60" height="7.32"/>
<rect x="426.02" y="490.38" width="2.20" height="7.32"/>
<rect x="425.57" y="483.06" width="3.10" height="7.32"/>
<rect x="425.57" y="475.74" width="3.10" height="7.32"/>
<rect x="425.57" y="468.42" width="3.10" height="7.32"/>
<rect x="425.57" y="461.10" width="3.10" height="7.32"/>
<rect x="425.82" y="453.78" width="2.60" height="7.32"/>
<rect x="426.07" y="446.46" width="2.10" height="7.32"/>
<rect x="426.20" y="439.14" width="1.85" height="7.32"/>
<rect x="426.32" y="431.82" width="1.60" height="7.32"/>
</g>
<circle cx="427.12" cy="455.24" r="7.35" fill="#b3da65" stroke="#fff" stroke-width="1.4"/>
<path fill="#9acd32" d="M439.88 520.21L439.88 512.34L439.67 512.34L439.67 505.02L439.38 505.02L439.38 497.70L439.12 497.70L439.12 490.38L438.77 490.38L438.77 483.06L438.77 483.06L438.77 475.74L438.77 475.74L438.77 468.42L438.77 468.42L438.77 461.10L438.77 461.10L438.77 453.78L438.77 453.78L438.77 446.46L438.90 446.46L438.90 439.14L439.02 439.14L439.02 431.82L439.09 431.82L439.09 424.50L439.15 424.50L439.15 417.18L439.21 417.18L439.21 409.86L439.27 409.86L439.27 402.54L439.34 402.54L439.34 395.22L439.40 395.22L439.40 387.90L439.46 387.90L439.46 380.58L439.52 380.58L439.52 373.26L439.56 373.26L439.56 365.94L439.60 365.94L439.60 358.62L439.63 358.62L439.63 351.30L439.67 351.30L439.67 343.98L439.70 343.98L439.70 336.66L439.74 336.66L439.74 329.34L439.77 329.34L439.77 322.02L439.81 322.02L439.81 314.70L439.85 314.70L439.85 307.38L439.88 307.38L439.88 300.06L439.92 300.06L439.92 292.74L439.95 292.74L439.95 285.42L439.99 285.42L439.99 278.10L440.02 278.10L440.02 270.23L441.52 270.23L441.52 278.10L441.56 278.10L441.56 285.42L441.60 285.42L441.60 292.74L441.63 292.74L441.63 300.06L441.67 300.06L441.67 307.38L441.70 307.38L441.70 314.70L441.74 314.70L441.74 322.02L441.77 322.02L441.77 329.34L441.81 329.34L441.81 336.66L441.85 336.66L441.85 343.98L441.88 343.98L441.88 351.30L441.92 351.30L441.92 358.62L441.95 358.62L441.95 365.94L441.99 365.94L441.99 373.26L442.02 373.26L442.02 380.58L442.09 380.58L442.09 387.90L442.15 387.90L442.15 395.22L442.21 395.22L442.21 402.54L442.27 402.54L442.27 409.86L442.34 409.86L442.34 417.18L442.40 417.18L442.40 424.50L442.46 424.50L442.46 431.82L442.52 431.82L442.52 439.14L442.65 439.14L442.65 446.46L442.77 446.46L442.77 453.78L442.77 453.78L442.77 461.10L442.77 461.10L442.77 468.42L442.77 468.42L442.77 475.74L442.77 475.74L442.77 483.06L442.77 483.06L442.77 490.38L442.42 490.38L442.42 497.70L442.17 497.70L442.17 505.02L441.88 505.02L441.88 512.34L441.67 512.34L441.67 520.21ZM440.05 256.69L440.05 248.82L440.05 248.82L440.05 240.95L441.50 240.95L441.50 248.82L441.50 248.82L441.50 256.69ZM440.05 227.41L440.05 218.99L441.50 218.99L441.50 227.41Z"/>
<circle cx="440.77" cy="428.16" r="7.35" fill="#9acd32" stroke="#fff" stroke-width="1.4"/>
<path fill="#ffd700" d="M459.52 476.29L459.52 468.42L459.72 468.42L459.72 461.10L459.75 461.10L459.75 453.78L459.78 453.78L459.78 446.46L459.81 446.46L459.81 439.14L459.84 439.14L459.84 431.82L459.87 431.82L459.87 423.95L461.37 423.95L461.37 431.82L461.40 431.82L461.40 439.14L461.43 439.14L461.43 446.46L461.46 446.46L461.46 453.78L461.49 453.78L461.49 461.10L461.52 461.10L461.52 468.42L461.72 468.42L461.72 476.29ZM459.90 417.73L459.90 409.86L459.90 409.86L459.90 401.99L461.35 401.99L461.35 409.86L461.35 409.86L461.35 417.73Z"/>
<g fill="#fff5bf" stroke="#ffd700" stroke-width="1.4">
<rect x="456.07" y="512.34" width="9.10" height="7.32"/>
<rect x="454.02" y="505.02" width="13.20" height="7.32"/>
<rect x="457.82" y="497.70" width="5.60" height="7.32"/>
<rect x="458.82" y="490.38" width="3.60" height="7.32"/>
<rect x="459.32" y="483.06" width="2.60" height="7.32"/>
<rect x="459.82" y="475.74" width="1.60" height="7.32"/>
</g>
<circle cx="460.62" cy="500.99" r="7.35" fill="#fff5bf" stroke="#fff" stroke-width="1.4"/>
<path fill="#ffd700" d="M473.07 461.65L473.07 453.78L473.16 453.78L473.16 446.46L473.24 446.46L473.24 439.14L473.32 439.14L473.32 431.82L473.35 431.82L473.35 424.50L473.38 424.50L473.38 417.18L473.40 417.18L473.40 409.86L473.42 409.86L473.42 402.54L473.45 402.54L473.45 395.22L473.47 395.22L473.47 387.90L473.50 387.90L473.50 380.58L473.52 380.58L473.52 372.71L475.02 372.71L475.02 380.58L475.05 380.58L475.05 387.90L475.07 387.90L475.07 395.22L475.10 395.22L475.10 402.54L475.12 402.54L475.12 409.86L475.15 409.86L475.15 417.18L475.17 417.18L475.17 424.50L475.20 424.50L475.20 431.82L475.22 431.82L475.22 439.14L475.31 439.14L475.31 446.46L475.39 446.46L475.39 453.78L475.47 453.78L475.47 461.65ZM473.55 359.17L473.55 350.75L475.00 350.75L475.00 359.17ZM473.55 315.25L473.55 306.83L475.00 306.83L475.00 315.25Z"/>
<g fill="#ffeb80" stroke="#ffd700" stroke-width="1.4">
<rect x="471.82" y="512.34" width="4.90" height="7.32"/>
<rect x="470.57" y="505.02" width="7.40" height="7.32"/>
<rect x="470.57" y="497.70" width="7.40" height="7.32"/>
<rect x="470.72" y="490.38" width="7.10" height="7.32"/>
<rect x="471.97" y="483.06" width="4.60" height="7.32"/>
<rect x="472.47" y="475.74" width="3.60" height="7.32"/>
<rect x="472.88" y="468.42" width="2.80" height="7.32"/>
<rect x="473.47" y="461.10" width="1.60" height="7.32"/>
</g>
<circle cx="474.27" cy="488.92" r="7.35" fill="#ffeb80" stroke="#fff" stroke-width="1.4"/>
<path fill="#ffd700" d="M486.52 447.01L486.52 439.14L486.61 439.14L486.61 431.82L486.70 431.82L486.70 424.50L486.79 424.50L486.79 417.18L486.87 417.18L486.87 409.86L486.92 409.86L486.92 402.54L486.97 402.54L486.97 395.22L487.02 395.22L487.02 387.90L487.07 387.90L487.07 380.58L487.12 380.58L487.12 373.26L487.17 373.26L487.17 365.39L488.67 365.39L488.67 373.26L488.72 373.26L488.72 380.58L488.77 380.58L488.77 387.90L488.82 387.90L488.82 395.22L488.87 395.22L488.87 402.54L488.92 402.54L488.92 409.86L488.97 409.86L488.97 417.18L489.06 417.18L489.06 424.50L489.15 424.50L489.15 431.82L489.24 431.82L489.24 439.14L489.32 439.14L489.32 447.01ZM487.20 359.17L487.20 350.75L488.65 350.75L488.65 359.17ZM487.20 344.53L487.20 336.11L488.65 336.11L488.65 344.53ZM487.20 329.89L487.20 321.47L488.65 321.47L488.65 329.89Z"/>
<g fill="#ffe140" stroke="#ffd700" stroke-width="1.4">
<rect x="486.12" y="512.34" width="3.60" height="7.32"/>
<rect x="485.52" y="505.02" width="4.80" height="7.32"/>
<rect x="485.52" y="497.70" width="4.80" height="7.32"/>
<rect x="485.52" y="490.38" width="4.80" height="7.32"/>
<rect x="485.52" y="483.06" width="4.80" height="7.32"/>
<rect x="485.87" y="475.74" width="4.10" height="7.32"/>
<rect x="486.12" y="468.42" width="3.60" height="7.32"/>
<rect x="486.52" y="461.10" width="2.80" height="7.32"/>
<rect x="486.82" y="453.78" width="2.20" height="7.32"/>
<rect x="487.02" y="446.46" width="1.80" height="7.32"/>
</g>
<circle cx="487.92" cy="480.13" r="7.35" fill="#ffe140" stroke="#fff" stroke-width="1.4"/>
<path fill="#ffd700" d="M500.32 520.21L500.32 512.34L499.82 512.34L499.82 505.02L499.32 505.02L499.32 497.70L499.32 497.70L499.32 490.38L499.32 490.38L499.32 483.06L499.32 483.06L499.32 475.74L499.32 475.74L499.32 468.42L499.32 468.42L499.32 461.10L499.47 461.10L499.47 453.78L499.57 453.78L499.57 446.46L499.68 446.46L499.68 439.14L499.72 439.14L499.72 431.82L499.77 431.82L499.77 424.50L499.82 424.50L499.82 417.18L499.88 417.18L499.88 409.86L500.02 409.86L500.02 402.54L500.18 402.54L500.18 395.22L500.25 395.22L500.25 387.90L500.33 387.90L500.33 380.58L500.41 380.58L500.41 373.26L500.50 373.26L500.50 365.94L500.57 365.94L500.57 358.62L500.62 358.62L500.62 351.30L500.68 351.30L500.68 343.98L500.72 343.98L500.72 336.66L500.77 336.66L500.77 329.34L500.82 329.34L500.82 321.47L502.32 321.47L502.32 329.34L502.38 329.34L502.38 336.66L502.43 336.66L502.43 343.98L502.47 343.98L502.47 351.30L502.52 351.30L502.52 358.62L502.57 358.62L502.57 365.94L502.65 365.94L502.65 373.26L502.74 373.26L502.74 380.58L502.81 380.58L502.81 387.90L502.89 387.90L502.89 395.22L502.97 395.22L502.97 402.54L503.12 402.54L503.12 409.86L503.27 409.86L503.27 417.18L503.32 417.18L503.32 424.50L503.38 424.50L503.38 431.82L503.43 431.82L503.43 439.14L503.47 439.14L503.47 446.46L503.57 446.46L503.57 453.78L503.68 453.78L503.68 461.10L503.82 461.10L503.82 468.42L503.82 468.42L503.82 475.74L503.82 475.74L503.82 483.06L503.82 483.06L503.82 490.38L503.82 490.38L503.82 497.70L503.82 497.70L503.82 505.02L503.32 505.02L503.32 512.34L502.82 512.34L502.82 520.21ZM500.85 315.25L500.85 307.38L500.85 307.38L500.85 299.51L502.30 299.51L502.30 307.38L502.30 307.38L502.30 315.25ZM500.85 271.33L500.85 263.46L500.85 263.46L500.85 255.59L502.30 255.59L502.30 263.46L502.30 263.46L502.30 271.33ZM500.85 242.05L500.85 233.63L502.30 233.63L502.30 242.05ZM500.85 190.81L500.85 182.39L502.30 182.39L502.30 190.81Z"/>
<circle cx="501.57" cy="458.17" r="7.35" fill="#ffd700" stroke="#fff" stroke-width="1.4"/>
<path fill="#ffa500" d="M520.02 490.93L520.02 483.06L520.27 483.06L520.27 475.74L520.47 475.74L520.47 468.42L520.50 468.42L520.50 461.10L520.53 461.10L520.53 453.78L520.56 453.78L520.56 446.46L520.59 446.46L520.59 439.14L520.62 439.14L520.62 431.82L520.65 431.82L520.65 424.50L520.67 424.50L520.67 416.63L522.17 416.63L522.17 424.50L522.20 424.50L522.20 431.82L522.23 431.82L522.23 439.14L522.26 439.14L522.26 446.46L522.29 446.46L522.29 453.78L522.32 453.78L522.32 461.10L522.35 461.10L522.35 468.42L522.38 468.42L522.38 475.74L522.57 475.74L522.57 483.06L522.82 483.06L522.82 490.93ZM520.70 373.81L520.70 365.39L522.15 365.39L522.15 373.81ZM520.70 351.85L520.70 343.43L522.15 343.43L522.15 351.85Z"/>
<g fill="#ffe8bf" stroke="#ffa500" stroke-width="1.4">
<rect x="512.62" y="512.34" width="17.60" height="7.32"/>
<rect x="518.12" y="505.02" width="6.60" height="7.32"/>
<rect x="519.38" y="497.70" width="4.10" height="7.32"/>
<rect x="519.72" y="490.38" width="3.40" height="7.32"/>
</g>
<circle cx="521.42" cy="505.02" r="7.35" fill="#ffe8bf" stroke="#fff" stroke-width="1.4"/>
<path fill="#ffa500" d="M533.72 483.61L533.72 475.74L533.97 475.74L533.97 468.42L534.12 468.42L534.12 461.10L534.15 461.10L534.15 453.78L534.18 453.78L534.18 446.46L534.21 446.46L534.21 439.14L534.24 439.14L534.24 431.82L534.27 431.82L534.27 424.50L534.30 424.50L534.30 417.18L534.32 417.18L534.32 409.31L535.82 409.31L535.82 417.18L535.85 417.18L535.85 424.50L535.88 424.50L535.88 431.82L535.91 431.82L535.91 439.14L535.94 439.14L535.94 446.46L535.97 446.46L535.97 453.78L536.00 453.78L536.00 461.10L536.02 461.10L536.02 468.42L536.17 468.42L536.17 475.74L536.42 475.74L536.42 483.61ZM534.35 403.09L534.35 394.67L535.80 394.67L535.80 403.09ZM534.35 381.13L534.35 372.71L535.80 372.71L535.80 381.13ZM534.35 366.49L534.35 358.07L535.80 358.07L535.80 366.49ZM534.35 322.57L534.35 314.15L535.80 314.15L535.80 322.57Z"/>
<g fill="#ffd280" stroke="#ffa500" stroke-width="1.4">
<rect x="529.62" y="512.34" width="10.90" height="7.32"/>
<rect x="530.87" y="505.02" width="8.40" height="7.32"/>
<rect x="532.77" y="497.70" width="4.60" height="7.32"/>
<rect x="533.56" y="490.38" width="3.03" height="7.32"/>
<rect x="534.27" y="483.06" width="1.60" height="7.32"/>
</g>
<circle cx="535.07" cy="497.33" r="7.35" fill="#ffd280" stroke="#fff" stroke-width="1.4"/>
<path fill="#ffa500" d="M547.33 461.65L547.33 453.78L547.52 453.78L547.52 446.46L547.65 446.46L547.65 439.14L547.77 439.14L547.77 431.82L547.82 431.82L547.82 424.50L547.86 424.50L547.86 417.18L547.89 417.18L547.89 409.86L547.94 409.86L547.94 402.54L547.98 402.54L547.98 394.67L549.48 394.67L549.48 402.54L549.51 402.54L549.51 409.86L549.56 409.86L549.56 417.18L549.60 417.18L549.60 424.50L549.63 424.50L549.63 431.82L549.68 431.82L549.68 439.14L549.80 439.14L549.80 446.46L549.93 446.46L549.93 453.78L550.12 453.78L550.12 461.65ZM548.00 388.45L548.00 380.58L548.00 380.58L548.00 373.26L548.00 373.26L548.00 365.39L549.45 365.39L549.45 373.26L549.45 373.26L549.45 380.58L549.45 380.58L549.45 388.45ZM548.00 329.89L548.00 321.47L549.45 321.47L549.45 329.89ZM548.00 307.93L548.00 299.51L549.45 299.51L549.45 307.93Z"/>
<g fill="#ffbc40" stroke="#ffa500" stroke-width="1.4">
<rect x="545.12" y="512.34" width="7.20" height="7.32"/>
<rect x="545.12" y="505.02" width="7.20" height="7.32"/>
<rect x="545.93" y="497.70" width="5.60" height="7.32"/>
<rect x="546.68" y="490.38" width="4.10" height="7.32"/>
<rect x="546.93" y="483.06" width="3.60" height="7.32"/>
<rect x="547.02" y="475.74" width="3.40" height="7.32"/>
<rect x="547.02" y="468.42" width="3.40" height="7.32"/>
<rect x="547.83" y="461.10" width="1.80" height="7.32"/>
</g>
<circle cx="548.73" cy="487.45" r="7.35" fill="#ffbc40" stroke="#fff" stroke-width="1.4"/>
<path fill="#ffa500" d="M560.98 520.21L560.98 512.34L560.48 512.34L560.48 505.02L560.08 505.02L560.08 497.70L559.58 497.70L559.58 490.38L559.58 490.38L559.58 483.06L559.58 483.06L559.58 475.74L559.88 475.74L559.88 468.42L560.08 468.42L560.08 461.10L560.38 461.10L560.38 453.78L560.52 453.78L560.52 446.46L560.67 446.46L560.67 439.14L560.83 439.14L560.83 431.82L560.91 431.82L560.91 424.50L561.00 424.50L561.00 417.18L561.09 417.18L561.09 409.86L561.17 409.86L561.17 402.54L561.24 402.54L561.24 395.22L561.30 395.22L561.30 387.90L561.37 387.90L561.37 380.58L561.43 380.58L561.43 373.26L561.50 373.26L561.50 365.94L561.56 365.94L561.56 358.62L561.62 358.62L561.62 350.75L563.12 350.75L563.12 358.62L563.19 358.62L563.19 365.94L563.25 365.94L563.25 373.26L563.32 373.26L563.32 380.58L563.38 380.58L563.38 387.90L563.45 387.90L563.45 395.22L563.51 395.22L563.51 402.54L563.58 402.54L563.58 409.86L563.66 409.86L563.66 417.18L563.75 417.18L563.75 424.50L563.84 424.50L563.84 431.82L563.92 431.82L563.92 439.14L564.08 439.14L564.08 446.46L564.23 446.46L564.23 453.78L564.38 453.78L564.38 461.10L564.67 461.10L564.67 468.42L564.88 468.42L564.88 475.74L565.17 475.74L565.17 483.06L565.17 483.06L565.17 490.38L565.17 490.38L565.17 497.70L564.67 497.70L564.67 505.02L564.27 505.02L564.27 512.34L563.77 512.34L563.77 520.21ZM561.65 337.21L561.65 329.34L561.65 329.34L561.65 322.02L561.65 322.02L561.65 314.70L561.65 314.70L561.65 307.38L561.65 307.38L561.65 299.51L563.10 299.51L563.10 307.38L563.10 307.38L563.10 314.70L563.10 314.70L563.10 322.02L563.10 322.02L563.10 329.34L563.10 329.34L563.10 337.21ZM561.65 264.01L561.65 256.14L561.65 256.14L561.65 248.27L563.10 248.27L563.10 256.14L563.10 256.14L563.10 264.01Z"/>
<circle cx="562.38" cy="468.42" r="7.35" fill="#ffa500" stroke="#fff" stroke-width="1.4"/>
<path fill="#ea0000" d="M580.92 490.93L580.92 483.06L581.12 483.06L581.12 475.74L581.27 475.74L581.27 468.42L581.30 468.42L581.30 461.10L581.33 461.10L581.33 453.78L581.36 453.78L581.36 446.46L581.39 446.46L581.39 439.14L581.42 439.14L581.42 431.82L581.45 431.82L581.45 424.50L581.47 424.50L581.47 416.63L582.97 416.63L582.97 424.50L583.00 424.50L583.00 431.82L583.03 431.82L583.03 439.14L583.06 439.14L583.06 446.46L583.09 446.46L583.09 453.78L583.12 453.78L583.12 461.10L583.15 461.10L583.15 468.42L583.17 468.42L583.17 475.74L583.32 475.74L583.32 483.06L583.52 483.06L583.52 490.93ZM581.50 403.09L581.50 394.67L582.95 394.67L582.95 403.09Z"/>
<g fill="#fabfbf" stroke="#ea0000" stroke-width="1.4">
<rect x="571.82" y="512.34" width="20.80" height="7.32"/>
<rect x="579.42" y="505.02" width="5.60" height="7.32"/>
<rect x="580.42" y="497.70" width="3.60" height="7.32"/>
<rect x="580.82" y="490.38" width="2.80" height="7.32"/>
</g>
<circle cx="582.22" cy="505.02" r="7.35" fill="#fabfbf" stroke="#fff" stroke-width="1.4"/>
<path fill="#ea0000" d="M594.57 483.61L594.57 475.74L594.77 475.74L594.77 468.42L594.92 468.42L594.92 461.10L594.95 461.10L594.95 453.78L594.97 453.78L594.97 446.46L595.00 446.46L595.00 439.14L595.02 439.14L595.02 431.82L595.05 431.82L595.05 424.50L595.07 424.50L595.07 417.18L595.10 417.18L595.10 409.86L595.12 409.86L595.12 401.99L596.62 401.99L596.62 409.86L596.65 409.86L596.65 417.18L596.67 417.18L596.67 424.50L596.70 424.50L596.70 431.82L596.72 431.82L596.72 439.14L596.75 439.14L596.75 446.46L596.77 446.46L596.77 453.78L596.80 453.78L596.80 461.10L596.82 461.10L596.82 468.42L596.97 468.42L596.97 475.74L597.17 475.74L597.17 483.61ZM595.15 395.77L595.15 387.90L595.15 387.90L595.15 380.03L596.60 380.03L596.60 387.90L596.60 387.90L596.60 395.77ZM595.15 366.49L595.15 358.62L595.15 358.62L595.15 350.75L596.60 350.75L596.60 358.62L596.60 358.62L596.60 366.49ZM595.15 344.53L595.15 336.11L596.60 336.11L596.60 344.53ZM595.15 329.89L595.15 321.47L596.60 321.47L596.60 329.89Z"/>
<g fill="#f48080" stroke="#ea0000" stroke-width="1.4">
<rect x="590.67" y="512.34" width="10.40" height="7.32"/>
<rect x="591.57" y="505.02" width="8.60" height="7.32"/>
<rect x="593.32" y="497.70" width="5.10" height="7.32"/>
<rect x="594.07" y="490.38" width="3.60" height="7.32"/>
<rect x="594.67" y="483.06" width="2.40" height="7.32"/>
</g>
<circle cx="595.87" cy="496.09" r="7.35" fill="#f48080" stroke="#fff" stroke-width="1.4"/>
<path fill="#ea0000" d="M608.17 461.65L608.17 453.78L608.32 453.78L608.32 446.46L608.45 446.46L608.45 439.14L608.57 439.14L608.57 431.82L608.61 431.82L608.61 424.50L608.64 424.50L608.64 417.18L608.67 417.18L608.67 409.86L608.71 409.86L608.71 402.54L608.74 402.54L608.74 395.22L608.77 395.22L608.77 387.35L610.27 387.35L610.27 395.22L610.31 395.22L610.31 402.54L610.34 402.54L610.34 409.86L610.38 409.86L610.38 417.18L610.41 417.18L610.41 424.50L610.44 424.50L610.44 431.82L610.48 431.82L610.48 439.14L610.60 439.14L610.60 446.46L610.73 446.46L610.73 453.78L610.88 453.78L610.88 461.65ZM608.80 381.13L608.80 372.71L610.25 372.71L610.25 381.13ZM608.80 366.49L608.80 358.07L610.25 358.07L610.25 366.49Z"/>
<g fill="#ef4040" stroke="#ea0000" stroke-width="1.4">
<rect x="605.48" y="512.34" width="8.10" height="7.32"/>
<rect x="605.62" y="505.02" width="7.80" height="7.32"/>
<rect x="607.82" y="497.70" width="3.40" height="7.32"/>
<rect x="607.92" y="490.38" width="3.20" height="7.32"/>
<rect x="608.01" y="483.06" width="3.03" height="7.32"/>
<rect x="608.12" y="475.74" width="2.80" height="7.32"/>
<rect x="608.23" y="468.42" width="2.60" height="7.32"/>
<rect x="608.73" y="461.10" width="1.60" height="7.32"/>
</g>
<circle cx="609.52" cy="490.38" r="7.35" fill="#ef4040" stroke="#fff" stroke-width="1.4"/>
<path fill="#ea0000" d="M620.92 520.21L620.92 512.34L620.47 512.34L620.47 505.02L620.47 505.02L620.47 497.70L620.47 497.70L620.47 490.38L620.47 490.38L620.47 483.06L620.47 483.06L620.47 475.74L620.67 475.74L620.67 468.42L620.88 468.42L620.88 461.10L621.17 461.10L621.17 453.78L621.47 453.78L621.47 446.46L621.57 446.46L621.57 439.14L621.67 439.14L621.67 431.82L621.77 431.82L621.77 424.50L621.88 424.50L621.88 417.18L621.97 417.18L621.97 409.86L622.07 409.86L622.07 402.54L622.16 402.54L622.16 395.22L622.25 395.22L622.25 387.90L622.34 387.90L622.34 380.58L622.42 380.58L622.42 372.71L623.92 372.71L623.92 380.58L624.01 380.58L624.01 387.90L624.10 387.90L624.10 395.22L624.19 395.22L624.19 402.54L624.27 402.54L624.27 409.86L624.38 409.86L624.38 417.18L624.47 417.18L624.47 424.50L624.57 424.50L624.57 431.82L624.67 431.82L624.67 439.14L624.77 439.14L624.77 446.46L624.88 446.46L624.88 453.78L625.17 453.78L625.17 461.10L625.47 461.10L625.47 468.42L625.67 468.42L625.67 475.74L625.88 475.74L625.88 483.06L625.88 483.06L625.88 490.38L625.88 490.38L625.88 497.70L625.88 497.70L625.88 505.02L625.88 505.02L625.88 512.34L625.42 512.34L625.42 520.21ZM622.45 366.49L622.45 358.62L622.45 358.62L622.45 351.30L622.45 351.30L622.45 343.98L622.45 343.98L622.45 336.66L622.45 336.66L622.45 329.34L622.45 329.34L622.45 322.02L622.45 322.02L622.45 314.15L623.90 314.15L623.90 322.02L623.90 322.02L623.90 329.34L623.90 329.34L623.90 336.66L623.90 336.66L623.90 343.98L623.90 343.98L623.90 351.30L623.90 351.30L623.90 358.62L623.90 358.62L623.90 366.49ZM622.45 293.29L622.45 284.87L623.90 284.87L623.90 293.29Z"/>
<circle cx="623.17" cy="467.69" r="7.35" fill="#ea0000" stroke="#fff" stroke-width="1.4"/>
<path fill="#8b0000" d="M641.73 490.93L641.73 483.06L641.92 483.06L641.92 475.74L642.07 475.74L642.07 468.42L642.10 468.42L642.10 461.10L642.13 461.10L642.13 453.78L642.16 453.78L642.16 446.46L642.19 446.46L642.19 439.14L642.22 439.14L642.22 431.82L642.25 431.82L642.25 424.50L642.27 424.50L642.27 416.63L643.77 416.63L643.77 424.50L643.80 424.50L643.80 431.82L643.83 431.82L643.83 439.14L643.86 439.14L643.86 446.46L643.89 446.46L643.89 453.78L643.92 453.78L643.92 461.10L643.95 461.10L643.95 468.42L643.98 468.42L643.98 475.74L644.12 475.74L644.12 483.06L644.32 483.06L644.32 490.93ZM642.30 381.13L642.30 372.71L643.75 372.71L643.75 381.13ZM642.30 366.49L642.30 358.07L643.75 358.07L643.75 366.49Z"/>
<g fill="#e2bfbf" stroke="#8b0000" stroke-width="1.4">
<rect x="633.02" y="512.34" width="20.00" height="7.32"/>
<rect x="640.23" y="505.02" width="5.60" height="7.32"/>
<rect x="641.23" y="497.70" width="3.60" height="7.32"/>
<rect x="641.82" y="490.38" width="2.40" height="7.32"/>
</g>
<circle cx="643.02" cy="505.97" r="7.35" fill="#e2bfbf" stroke="#fff" stroke-width="1.4"/>
<path fill="#8b0000" d="M655.38 483.61L655.38 475.74L655.57 475.74L655.57 468.42L655.72 468.42L655.72 461.10L655.75 461.10L655.75 453.78L655.78 453.78L655.78 446.46L655.81 446.46L655.81 439.14L655.84 439.14L655.84 431.82L655.87 431.82L655.87 424.50L655.90 424.50L655.90 417.18L655.92 417.18L655.92 409.31L657.42 409.31L657.42 417.18L657.45 417.18L657.45 424.50L657.48 424.50L657.48 431.82L657.51 431.82L657.51 439.14L657.54 439.14L657.54 446.46L657.57 446.46L657.57 453.78L657.60 453.78L657.60 461.10L657.62 461.10L657.62 468.42L657.77 468.42L657.77 475.74L657.97 475.74L657.97 483.61ZM655.95 403.09L655.95 395.22L655.95 395.22L655.95 387.35L657.40 387.35L657.40 395.22L657.40 395.22L657.40 403.09ZM655.95 359.17L655.95 350.75L657.40 350.75L657.40 359.17ZM655.95 344.53L655.95 336.11L657.40 336.11L657.40 344.53Z"/>
<g fill="#c58080" stroke="#8b0000" stroke-width="1.4">
<rect x="650.77" y="512.34" width="11.80" height="7.32"/>
<rect x="652.88" y="505.02" width="7.60" height="7.32"/>
<rect x="654.38" y="497.70" width="4.60" height="7.32"/>
<rect x="655.16" y="490.38" width="3.03" height="7.32"/>
<rect x="655.57" y="483.06" width="2.20" height="7.32"/>
</g>
<circle cx="656.67" cy="498.43" r="7.35" fill="#c58080" stroke="#fff" stroke-width="1.4"/>
<path fill="#8b0000" d="M668.93 468.97L668.93 461.10L669.05 461.10L669.05 453.78L669.18 453.78L669.18 446.46L669.28 446.46L669.28 439.14L669.38 439.14L669.38 431.82L669.43 431.82L669.43 424.50L669.48 424.50L669.48 417.18L669.53 417.18L669.53 409.86L669.58 409.86L669.58 401.99L671.08 401.99L671.08 409.86L671.12 409.86L671.12 417.18L671.18 417.18L671.18 424.50L671.23 424.50L671.23 431.82L671.28 431.82L671.28 439.14L671.38 439.14L671.38 446.46L671.48 446.46L671.48 453.78L671.60 453.78L671.60 461.10L671.73 461.10L671.73 468.97ZM669.60 395.77L669.60 387.90L669.60 387.90L669.60 380.58L669.60 380.58L669.60 373.26L669.60 373.26L669.60 365.39L671.05 365.39L671.05 373.26L671.05 373.26L671.05 380.58L671.05 380.58L671.05 387.90L671.05 387.90L671.05 395.77ZM669.60 359.17L669.60 350.75L671.05 350.75L671.05 359.17ZM669.60 329.89L669.60 321.47L671.05 321.47L671.05 329.89ZM669.60 315.25L669.60 306.83L671.05 306.83L671.05 315.25Z"/>
<g fill="#a84040" stroke="#8b0000" stroke-width="1.4">
<rect x="666.53" y="512.34" width="7.60" height="7.32"/>
<rect x="667.03" y="505.02" width="6.60" height="7.32"/>
<rect x="668.53" y="497.70" width="3.60" height="7.32"/>
<rect x="668.62" y="490.38" width="3.40" height="7.32"/>
<rect x="668.81" y="483.06" width="3.03" height="7.32"/>
<rect x="669.12" y="475.74" width="2.40" height="7.32"/>
<rect x="669.28" y="468.42" width="2.10" height="7.32"/>
</g>
<circle cx="670.33" cy="490.01" r="7.35" fill="#a84040" stroke="#fff" stroke-width="1.4"/>
<path fill="#8b0000" d="M681.68 520.21L681.68 512.34L681.38 512.34L681.38 505.02L681.38 505.02L681.38 497.70L681.38 497.70L681.38 490.38L681.38 490.38L681.38 483.06L681.38 483.06L681.38 475.74L681.58 475.74L681.58 468.42L681.76 468.42L681.76 461.10L681.98 461.10L681.98 453.78L682.23 453.78L682.23 446.46L682.33 446.46L682.33 439.14L682.43 439.14L682.43 431.82L682.52 431.82L682.52 424.50L682.60 424.50L682.60 417.18L682.68 417.18L682.68 409.86L682.75 409.86L682.75 402.54L682.83 402.54L682.83 395.22L682.88 395.22L682.88 387.90L682.94 387.90L682.94 380.58L683.00 380.58L683.00 373.26L683.05 373.26L683.05 365.94L683.11 365.94L683.11 358.62L683.17 358.62L683.17 351.30L683.23 351.30L683.23 343.43L684.73 343.43L684.73 351.30L684.78 351.30L684.78 358.62L684.84 358.62L684.84 365.94L684.90 365.94L684.90 373.26L684.95 373.26L684.95 380.58L685.01 380.58L685.01 387.90L685.07 387.90L685.07 395.22L685.12 395.22L685.12 402.54L685.20 402.54L685.20 409.86L685.27 409.86L685.27 417.18L685.35 417.18L685.35 424.50L685.43 424.50L685.43 431.82L685.52 431.82L685.52 439.14L685.62 439.14L685.62 446.46L685.73 446.46L685.73 453.78L685.98 453.78L685.98 461.10L686.19 461.10L686.19 468.42L686.38 468.42L686.38 475.74L686.58 475.74L686.58 483.06L686.58 483.06L686.58 490.38L686.58 490.38L686.58 497.70L686.58 497.70L686.58 505.02L686.58 505.02L686.58 512.34L686.27 512.34L686.27 520.21ZM683.25 337.21L683.25 329.34L683.25 329.34L683.25 322.02L683.25 322.02L683.25 314.70L683.25 314.70L683.25 306.83L684.70 306.83L684.70 314.70L684.70 314.70L684.70 322.02L684.70 322.02L684.70 329.34L684.70 329.34L684.70 337.21ZM683.25 293.29L683.25 285.42L683.25 285.42L683.25 277.55L684.70 277.55L684.70 285.42L684.70 285.42L684.70 293.29ZM683.25 249.37L683.25 240.95L684.70 240.95L684.70 249.37Z"/>
<circle cx="683.98" cy="468.42" r="7.35" fill="#8b0000" stroke="#fff" stroke-width="1.4"/>
<g stroke="#4d4d4d" stroke-width="1.65" fill="none" stroke-linecap="round">
<path d="M80 10.9V516.0"/>
<path d="M70 516.0H80"/>
<path d="M70 450.1H80"/>
<path d="M70 376.9H80"/>
<path d="M70 303.7H80"/>
<path d="M70 230.5H80"/>
<path d="M70 157.3H80"/>
<path d="M70 84.1H80"/>
<path d="M70 10.9H80"/>
</g>
<g stroke="#000" stroke-width="1.25" fill="none" stroke-linecap="round">
<path d="M116.2 520H663.4"/>
<path d="M116.2 520V530"/>
<path d="M177.0 520V530"/>
<path d="M237.8 520V530"/>
<path d="M298.6 520V530"/>
<path d="M359.4 520V530"/>
<path d="M420.2 520V530"/>
<path d="M481.0 520V530"/>
<path d="M541.8 520V530"/>
<path d="M602.6 520V530"/>
<path d="M663.4 520V530"/>
</g>
<g font-size="16.8" fill="#000" text-anchor="middle">
<text transform="translate(56.5 516.0) rotate(-90)">1</text>
<text transform="translate(56.5 450.1) rotate(-90)">10</text>
<text transform="translate(56.5 376.9) rotate(-90)">20</text>
<text transform="translate(56.5 303.7) rotate(-90)">30</text>
<text transform="translate(56.5 230.5) rotate(-90)">40</text>
<text transform="translate(56.5 157.3) rotate(-90)">50</text>
<text transform="translate(56.5 84.1) rotate(-90)">60</text>
<text transform="translate(56.5 10.9) rotate(-90)">70</text>
<text x="116.2" y="555.5">−3.5</text>
<text x="177.0" y="555.5">−3</text>
<text x="237.8" y="555.5">−2.5</text>
<text x="298.6" y="555.5">−2</text>
<text x="359.4" y="555.5">−1.5</text>
<text x="420.2" y="555.5">−1</text>
<text x="481.0" y="555.5">−0.5</text>
<text x="541.8" y="555.5">0</text>
<text x="602.6" y="555.5">0.5</text>
<text x="663.4" y="555.5">1</text>
</g>
<text transform="translate(27 260.2) rotate(-90)" font-size="16.8" text-anchor="middle">number of loci / trait</text>
<g font-size="16.8" fill="#000"><text x="359.2" y="581.2">log</text><text x="381.9" y="584.4" font-size="10.7">10</text><text x="394.0" y="581.6" font-size="17.5">(</text><text x="400.2" y="581.2" font-size="17.6">σ</text><text x="410.6" y="584.4" font-size="12.5">f</text><text x="415.5" y="581.6" font-size="17.5">)</text></g>
<text x="86" y="585.5" font-size="16.7" fill="#999">strong selection</text>
<text x="693.5" y="585.6" font-size="16.6" fill="#999" text-anchor="end">weak selection</text>
<rect x="92.5" y="25.95" width="11.6" height="6.5" fill="#b3b3b3" stroke="#4d4d4d" stroke-width="1.2"/>
<g font-size="16.4" fill="#000">
<text x="117.2" y="30.9">r</text>
<text x="122.9" y="34.2" font-size="11.0">rec</text>
<text x="140.9" y="30.9">=</text>
<text x="154.3" y="30.9">0</text>
</g>
<rect x="92.5" y="47.75" width="11.6" height="6.5" fill="#8c8c8c" stroke="#4d4d4d" stroke-width="1.2"/>
<g font-size="16.4" fill="#000">
<text x="117.2" y="54.0">r</text>
<text x="122.9" y="57.3" font-size="11.0">rec</text>
<text x="140.9" y="54.0">=</text>
<text x="154.3" y="54.0">2.5</text>
<path d="M181.3 45.8l8 8m0 -8l-8 8" stroke="#000" stroke-width="1.15" fill="none"/>
<text x="192.5" y="54.0">10</text>
<text x="210.3" y="47.0" font-size="11.0">−5</text>
</g>
<rect x="92.5" y="69.95" width="11.6" height="6.5" fill="#626262" stroke="#4d4d4d" stroke-width="1.2"/>
<g font-size="16.4" fill="#000">
<text x="117.2" y="76.4">r</text>
<text x="122.9" y="79.7" font-size="11.0">rec</text>
<text x="140.9" y="76.4">=</text>
<text x="154.3" y="76.4">5</text>
<path d="M167.6 68.2l8 8m0 -8l-8 8" stroke="#000" stroke-width="1.15" fill="none"/>
<text x="178.8" y="76.4">10</text>
<text x="196.7" y="69.4" font-size="11.0">−5</text>
</g>
<rect x="92.5" y="91.95" width="11.6" height="6.5" fill="#383838" stroke="#4d4d4d" stroke-width="1.2"/>
<g font-size="16.4" fill="#000">
<text x="117.2" y="98.1">r</text>
<text x="122.9" y="101.4" font-size="11.0">rec</text>
<text x="140.9" y="98.1">=</text>
<text x="154.3" y="98.1">10</text>
<path d="M176.7 89.9l8 8m0 -8l-8 8" stroke="#000" stroke-width="1.15" fill="none"/>
<text x="187.9" y="98.1">10</text>
<text x="205.8" y="91.1" font-size="11.0">−5</text>
</g>
</svg>
</body></html>
